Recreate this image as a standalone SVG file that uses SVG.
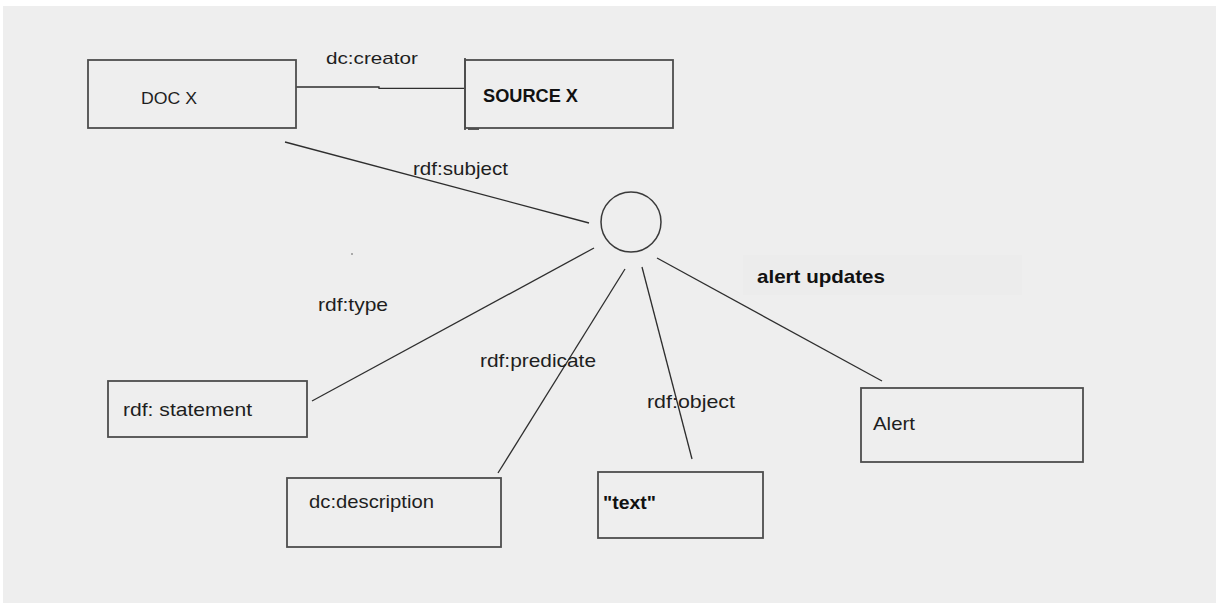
<svg xmlns="http://www.w3.org/2000/svg" width="1220" height="603" viewBox="0 0 1220 603">
  <style>
    .box { fill: none; stroke: #4d4d4d; stroke-width: 1.8; }
    .edge { fill: none; stroke: #2e2e2e; stroke-width: 1.3; }
    .circle { fill: none; stroke: #3a3a3a; stroke-width: 1.5; }
    .lbl { font-family: "Liberation Sans", Arial, sans-serif; font-size: 19px; fill: #1e1e1e; }
    .sm { font-size: 17px; }
    .bold { font-weight: bold; fill: #111; }
  </style>
  <!-- page -->
  <rect x="0" y="0" width="1220" height="603" fill="#ffffff"/>
  <rect x="3" y="6" width="1213" height="597" fill="#eeeeee"/>
  <rect x="743" y="255" width="279" height="40" fill="#ececec"/>

  <g id="connectors">
    <polyline class="edge" points="296,87 379,87 379,88.3 464,88.3"/>
    <line class="edge" x1="285" y1="142" x2="589" y2="223"/>
    <line class="edge" x1="594" y1="248" x2="312" y2="401"/>
    <line class="edge" x1="625" y1="269" x2="498" y2="473"/>
    <line class="edge" x1="642" y1="267" x2="692" y2="459"/>
    <line class="edge" x1="657" y1="258" x2="882" y2="381"/>
    <circle cx="352" cy="254" r="0.8" fill="#555"/>
    <line x1="468" y1="129" x2="479" y2="129" stroke="#333" stroke-width="1.6"/>
    <text class="lbl sm" x="326" y="64" textLength="92" lengthAdjust="spacingAndGlyphs">dc:creator</text>
    <text class="lbl" x="413" y="175" textLength="95" lengthAdjust="spacingAndGlyphs">rdf:subject</text>
    <text class="lbl" x="318" y="311" textLength="70" lengthAdjust="spacingAndGlyphs">rdf:type</text>
    <text class="lbl" x="480" y="367" textLength="116" lengthAdjust="spacingAndGlyphs">rdf:predicate</text>
    <text class="lbl" x="647" y="408" textLength="88" lengthAdjust="spacingAndGlyphs">rdf:object</text>
    <text class="lbl bold" x="757" y="283" textLength="128" lengthAdjust="spacingAndGlyphs">alert updates</text>
  </g>

  <g id="doc-x">
    <rect class="box" x="88" y="60" width="208" height="68"/>
    <text class="lbl sm" x="141" y="104" textLength="56" lengthAdjust="spacingAndGlyphs">DOC X</text>
  </g>
  <g id="source-x">
    <rect class="box" x="465" y="60" width="208" height="68"/>
    <line x1="465" y1="58" x2="465" y2="130" stroke="#4d4d4d" stroke-width="1.8"/>
    <text class="lbl bold" x="483" y="102" font-size="21" textLength="95" lengthAdjust="spacingAndGlyphs">SOURCE X</text>
  </g>
  <g id="statement-node">
    <circle class="circle" cx="631" cy="222" r="30"/>
  </g>
  <g id="rdf-statement">
    <rect class="box" x="108" y="381" width="199" height="56"/>
    <text class="lbl" x="123" y="416" textLength="129" lengthAdjust="spacingAndGlyphs">rdf: statement</text>
  </g>
  <g id="dc-description">
    <rect class="box" x="287" y="478" width="214" height="69"/>
    <text class="lbl" x="309" y="508" textLength="125" lengthAdjust="spacingAndGlyphs">dc:description</text>
  </g>
  <g id="text-literal">
    <rect class="box" x="598" y="472" width="165" height="66"/>
    <text class="lbl bold" x="603" y="509" textLength="53" lengthAdjust="spacingAndGlyphs">"text"</text>
  </g>
  <g id="alert">
    <rect class="box" x="861" y="388" width="222" height="74"/>
    <text class="lbl" x="873" y="430" textLength="42" lengthAdjust="spacingAndGlyphs">Alert</text>
  </g>
</svg>
